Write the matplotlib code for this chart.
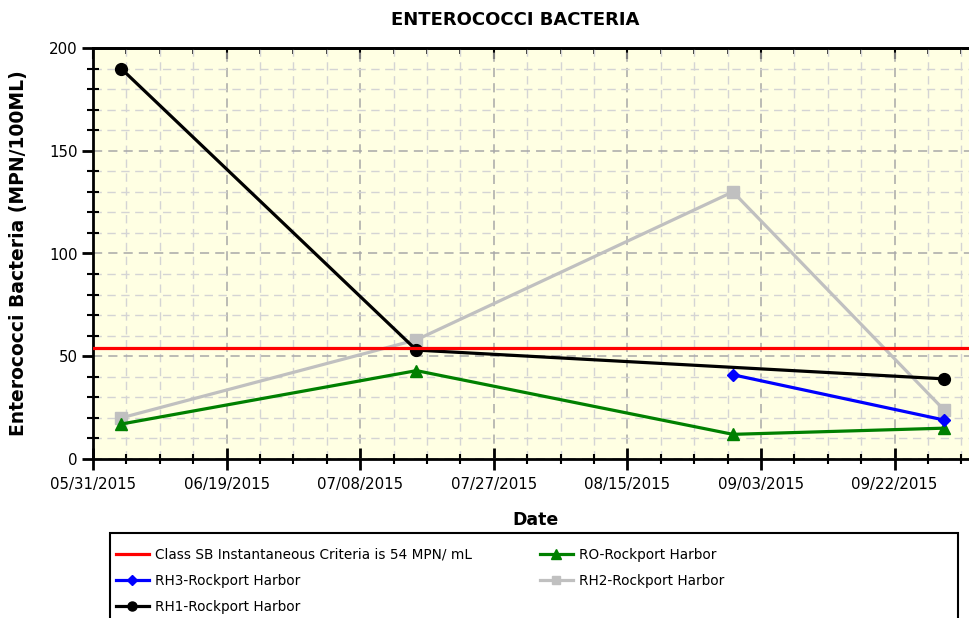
import matplotlib
matplotlib.use("Agg")
import matplotlib.pyplot as plt
import matplotlib.dates as mdates
from matplotlib.patches import Rectangle
from matplotlib.ticker import MultipleLocator, FixedLocator
import numpy as np
import datetime as dt

# ---------------- data ----------------
dates_all = ["2015-06-04", "2015-07-16", "2015-08-30", "2015-09-29"]
rh1_values = [190, 53, None, 39]
rh2_values = [20, 58, 130, 24]
ro_values = [17, 43, 12, 15]
rh3_dates = ["2015-08-30", "2015-09-29"]
rh3_values = [41, 19]
criteria_value = 54

major_tick_dates = ["2015-05-31", "2015-06-19", "2015-07-08", "2015-07-27",
                    "2015-08-15", "2015-09-03", "2015-09-22"]
major_tick_labels = ["05/31/2015", "06/19/2015", "07/08/2015", "07/27/2015",
                     "08/15/2015", "09/03/2015", "09/22/2015"]

title = "ENTEROCOCCI BACTERIA"
xlabel = "Date"
ylabel = "Enterococci Bacteria (MPN/100ML)"
label_crit = "Class SB Instantaneous Criteria is 54 MPN/ mL"
label_rh3 = "RH3-Rockport Harbor"
label_rh1 = "RH1-Rockport Harbor"
label_ro = "RO-Rockport Harbor"
label_rh2 = "RH2-Rockport Harbor"

def to_num(s):
    return mdates.date2num(dt.datetime.strptime(s, "%Y-%m-%d"))

x_all = [to_num(d) for d in dates_all]
x_rh3 = [to_num(d) for d in rh3_dates]
x_major = [to_num(d) for d in major_tick_dates]

# ---------------- figure ----------------
plt.rcParams['font.family'] = ['DejaVu Sans']
W, H = 970, 618
fig = plt.figure(figsize=(W / 100, H / 100), dpi=100)
left, right, top, bottom = 93, 970, 48, 459
ax = fig.add_axes([left / W, 1 - bottom / H, (right - left) / W, (bottom - top) / H])
ax.set_facecolor("#FFFFE3")

xmin = x_major[0]
step = x_major[1] - x_major[0]
xmax = xmin + step * (right - left) / 133.6
ax.set_xlim(xmin, xmax)
ax.set_ylim(0, 200)

lw = 2.3
rh1_x = [x for x, v in zip(x_all, rh1_values) if v is not None]
rh1_y = [v for v in rh1_values if v is not None]

ax.plot(x_all, rh2_values, color="#C0C0C0", lw=lw, marker="s", ms=8, zorder=3)
ax.plot(x_all, ro_values, color="#008000", lw=lw, marker="^", ms=8.5, zorder=4)
ax.plot(x_rh3, rh3_values, color="#0000FF", lw=lw, marker="D", ms=6.5, zorder=5)
ax.plot(rh1_x, rh1_y, color="black", lw=lw, marker="o", ms=8.5, zorder=6)
ax.axhline(criteria_value, color="#FF0000", lw=lw, zorder=7)

# ticks
ax.xaxis.set_major_locator(FixedLocator(x_major))
ax.set_xticklabels(major_tick_labels)
minor_x = np.arange(xmin, xmax + 1, step / 4)
ax.xaxis.set_minor_locator(FixedLocator(minor_x))
ax.yaxis.set_major_locator(MultipleLocator(50))
ax.yaxis.set_minor_locator(MultipleLocator(10))

ax.grid(which="major", color="#A8A8A8", linestyle=(0, (6, 4)), lw=1.1, zorder=1)
ax.grid(which="minor", color="#D4D4D4", linestyle=(0, (6, 4)), lw=1.0, zorder=1)
ax.set_axisbelow(True)

ax.tick_params(axis="x", which="major", direction="inout", length=16, width=2,
               labelsize=10.8, pad=5)
ax.tick_params(axis="x", which="minor", direction="inout", length=7.5, width=1.5)
ax.tick_params(axis="y", which="major", direction="out", length=8, width=2,
               labelsize=10.8, pad=3)
ax.tick_params(axis="y", which="minor", direction="inout", length=8, width=1.5)

secx = ax.secondary_xaxis("top")
secx.xaxis.set_major_locator(FixedLocator(x_major))
secx.xaxis.set_minor_locator(FixedLocator(minor_x))
secx.tick_params(which="major", direction="in", length=8, width=1.5, labeltop=False)
secx.tick_params(which="minor", direction="in", length=4, width=1.2)
secx.set_xticklabels([])
secx.spines["top"].set_linewidth(2)

for s in ["left", "bottom"]:
    ax.spines[s].set_linewidth(2)
ax.spines["top"].set_linewidth(2)
ax.spines["right"].set_visible(False)

fig.text(515 / W, 1 - 20 / H, title, ha="center", va="center",
         fontsize=13, fontweight="bold")
fig.text(535 / W, 1 - 520 / H, xlabel, ha="center", va="center",
         fontsize=12.5, fontweight="bold")
fig.text(19 / W, 1 - 253 / H, ylabel, ha="center", va="center",
         fontsize=13.5, fontweight="bold", rotation=90)

# legend
handles = [
    plt.Line2D([], [], color="#FF0000", lw=lw),
    plt.Line2D([], [], color="#0000FF", lw=lw, marker="D", ms=5),
    plt.Line2D([], [], color="black", lw=lw, marker="o", ms=6.5),
    plt.Line2D([], [], color="#008000", lw=lw, marker="^", ms=7),
    plt.Line2D([], [], color="#C0C0C0", lw=lw, marker="s", ms=6),
]
labels = [label_crit, label_rh3, label_rh1, label_ro, label_rh2]
fig.legend(handles, labels, ncol=2, loc="upper left",
           bbox_to_anchor=(116 / W, 1 - 548 / H), frameon=False,
           borderaxespad=0, borderpad=0, fontsize=9.8, handlelength=2.4,
           handletextpad=0.45, labelspacing=0.88, columnspacing=5.0)
fig.patches.append(Rectangle((110 / W, -0.05), 848 / W, (618 - 533) / H + 0.05,
                             transform=fig.transFigure, fill=False,
                             edgecolor="black", lw=1.5))

fig.savefig("out.png", dpi=100)
